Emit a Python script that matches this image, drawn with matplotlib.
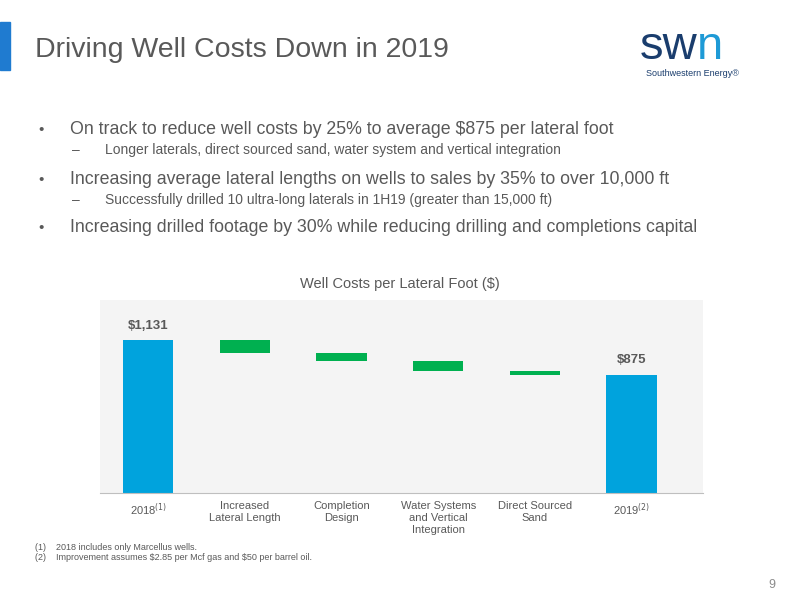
import matplotlib.pyplot as plt
from matplotlib.patches import Rectangle

plt.rcParams['font.family'] = ['Liberation Sans', 'DejaVu Sans']

# waterfall data ($ per lateral foot)
categories = ['2018$^{(1)}$', 'Increased\nLateral Length', 'Completion\nDesign',
              'Water Systems\nand Vertical\nIntegration', 'Direct Sourced\nSand', '2019$^{(2)}$']
start_value = 1131
end_value = 875
reductions = [94, 64, 72, 26]

blue = '#00a3dd'
green = '#00b050'
gray = '#595959'

fig = plt.figure(figsize=(8, 6), dpi=100)
fig.patch.set_facecolor('white')

# slide header
fig.patches.append(Rectangle((0, 1 - 70/600), 10/800, 48/600, transform=fig.transFigure,
                             color='#1f7bd0', zorder=0))
fig.text(35/800, 1 - 50/600, 'Driving Well Costs Down in 2019', fontsize=20.5, color=gray, va='center')
fig.text(0.80, 1 - 47/600, 'sw', fontsize=34, color='#1a3d6d', ha='left', va='center')
fig.text(0.80 + 57/800, 1 - 47/600, 'n', fontsize=34, color='#1e9ad6', ha='left', va='center')
fig.text(0.865, 1 - 73/600, 'Southwestern Energy\u00ae', fontsize=6.5, color='#1a3d6d', ha='center', va='center')

bullets = [
    (130, 0, 'On track to reduce well costs by 25% to average $875 per lateral foot'),
    (150, 1, 'Longer laterals, direct sourced sand, water system and vertical integration'),
    (180, 0, 'Increasing average lateral lengths on wells to sales by 35% to over 10,000 ft'),
    (200, 1, 'Successfully drilled 10 ultra-long laterals in 1H19 (greater than 15,000 ft)'),
    (228, 0, 'Increasing drilled footage by 30% while reducing drilling and completions capital'),
]
for y, lvl, txt in bullets:
    if lvl == 0:
        fig.text(38/800, 1 - y/600, '\u2022', fontsize=11, color=gray, va='center')
        fig.text(70/800, 1 - y/600, txt, fontsize=12.8, color=gray, va='center')
    else:
        fig.text(72/800, 1 - y/600, '\u2013', fontsize=10, color=gray, va='center')
        fig.text(105/800, 1 - y/600, txt, fontsize=10, color=gray, va='center')

# chart
ax = fig.add_axes([100/800, 1 - 493/600, 603/800, 193/600])
ax.set_facecolor('#f4f4f4')
fig.text(400/800, 1 - 284/600, 'Well Costs per Lateral Foot ($)', fontsize=10.5, color=gray, ha='center', va='center')

x = list(range(len(categories)))
ax.bar(0, start_value, width=0.52, color=blue)
level = start_value
for i, r in enumerate(reductions, start=1):
    ax.bar(i, r, bottom=level - r, width=0.52, color=green)
    level -= r
ax.bar(5, end_value, width=0.52, color=blue)
ax.text(0, start_value + 60, '$1,131', ha='center', va='bottom', fontsize=9.5, fontweight='bold', color=gray)
ax.text(5, end_value + 60, '$875', ha='center', va='bottom', fontsize=9.5, fontweight='bold', color=gray)

ax.set_xlim(-0.5, 5.74)
ax.set_ylim(0, 1426)
ax.set_yticks([])
ax.set_xticks(x)
ax.set_xticklabels(categories, fontsize=8, color=gray, va='top')
ax.tick_params(axis='x', length=0, pad=6)
for s in ['top', 'right', 'left']:
    ax.spines[s].set_visible(False)
ax.spines['bottom'].set_color('#bfbfbf')

fig.text(35/800, 1 - 547/600, '(1)    2018 includes only Marcellus wells.', fontsize=6.5, color=gray, va='center')
fig.text(35/800, 1 - 558/600, '(2)    Improvement assumes \\$2.85 per Mcf gas and \\$50 per barrel oil.', fontsize=6.5, color=gray, va='center')
fig.text(775/800, 1 - 585/600, '9', fontsize=9, color='#8c8c8c', ha='right', va='center')

fig.savefig('out.png', dpi=100)
